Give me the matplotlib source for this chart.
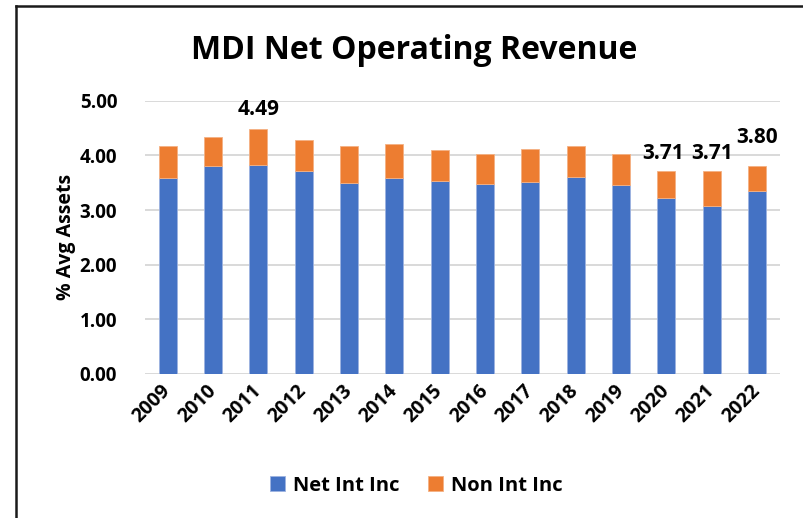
import numpy as np
import matplotlib.pyplot as plt
from matplotlib.lines import Line2D

plt.rcParams['font.family'] = ['Open Sans', 'DejaVu Sans']
plt.rcParams['font.weight'] = 'bold'

years = ["2009", "2010", "2011", "2012", "2013", "2014", "2015",
         "2016", "2017", "2018", "2019", "2020", "2021", "2022"]
net_int = [3.59, 3.81, 3.82, 3.71, 3.50, 3.59, 3.53, 3.48, 3.52, 3.60, 3.46, 3.22, 3.08, 3.35]
non_int = [0.58, 0.52, 0.67, 0.58, 0.67, 0.62, 0.57, 0.55, 0.59, 0.58, 0.57, 0.49, 0.63, 0.45]
# totals shown as labels
label_years = ["2011", "2020", "2021", "2022"]
label_text = ["4.49", "3.71", "3.71", "3.80"]

blue = "#4472C4"
orange = "#ED7D31"

fig = plt.figure(figsize=(8.04, 5.18), dpi=100)
ax = fig.add_axes([0.1803, 0.278, 0.7895, 0.5276])

x = np.arange(len(years))
net = np.array(net_int)
non = np.array(non_int)
ax.bar(x, net, width=0.4, color=blue, edgecolor="#9DB3E0", linewidth=0.6, label="Net Int Inc", zorder=3)
ax.bar(x, non, bottom=net, width=0.4, color=orange, edgecolor="#F4B183", linewidth=0.6, label="Non Int Inc", zorder=3)

# value labels (offsets in points above bar top, x shift in points)
offsets = {"2011": (0, 14), "2020": (-2, 13), "2021": (0, 13), "2022": (0, 21)}
for yr, txt in zip(label_years, label_text):
    i = years.index(yr)
    dx, dy = offsets[yr]
    ax.annotate(txt, (x[i], net[i] + non[i]), xytext=(dx, dy), textcoords="offset points",
                ha="center", va="center", fontsize=15, fontweight="bold", color="black")

ax.set_xlim(-0.5, len(years) - 0.5)
ax.set_ylim(0, 5)
ax.set_yticks([0, 1, 2, 3, 4, 5])
ax.set_yticklabels(["%.2f" % v for v in [0, 1, 2, 3, 4, 5]])
ax.set_xticks(x)
ax.set_xticklabels(years, rotation=45, ha="right", va="center", rotation_mode="anchor")
ax.tick_params(axis="y", length=0, labelsize=13.5, pad=20)
ax.tick_params(axis="x", length=0, labelsize=14, pad=10)
for lbl in ax.get_xticklabels() + ax.get_yticklabels():
    lbl.set_fontweight("bold")
ax.grid(axis="y", color="#D9D9D9", linewidth=1.4, zorder=0)
for s in ax.spines.values():
    s.set_visible(False)

ax.set_ylabel("% Avg Assets", fontsize=14, fontweight="bold", labelpad=3)

fig.text(0.515, 0.903, "MDI Net Operating Revenue", ha="center", va="center",
         fontsize=23, fontweight="bold")

fig.legend(loc="center", bbox_to_anchor=(0.518, 0.062), ncol=2, frameon=False,
           fontsize=14.5, handlelength=0.75, handleheight=0.75, columnspacing=1.4, handletextpad=0.4)

# chart border (left and top edges)
fig.add_artist(Line2D([0.0205, 0.0205], [0, 0.988], transform=fig.transFigure, color="#1a1a1a", linewidth=1.8))
fig.add_artist(Line2D([0.0205, 1.0], [0.988, 0.988], transform=fig.transFigure, color="#1a1a1a", linewidth=1.8))

fig.savefig("out.png", dpi=100)
